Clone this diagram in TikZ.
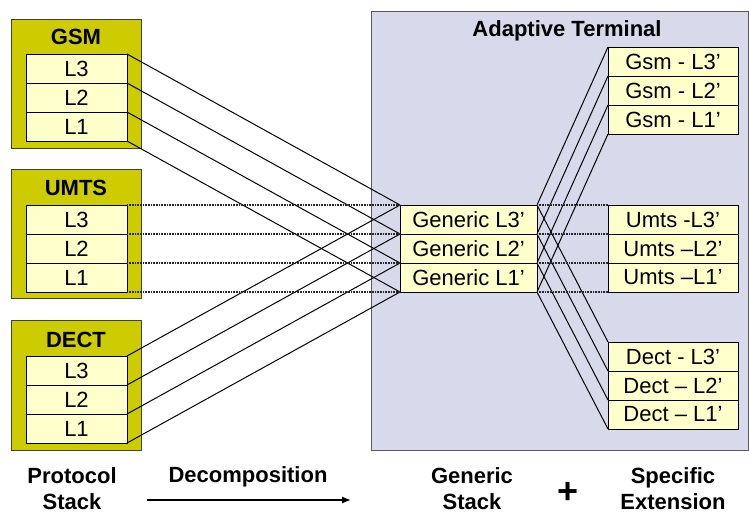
\documentclass[tikz,border=0pt]{standalone}
\usepackage{fontspec}
\setmainfont{Liberation Sans}
\usetikzlibrary{arrows.meta}
\definecolor{olive}{RGB}{204,204,0}
\definecolor{lightyel}{RGB}{255,255,204}
\definecolor{lav}{RGB}{217,217,236}
\begin{document}
\begin{tikzpicture}[x=1pt,y=-1pt,
  outerbox/.style={draw=black!75,line width=0.9pt,fill=olive},
  layer/.style={draw=black,line width=0.8pt,fill=lightyel,inner sep=0pt,outer sep=0pt,
     minimum height=29pt,anchor=north west,font=\fontsize{22}{24}\selectfont},
  lleft/.style={layer,minimum width=101pt},
  lgen/.style={layer,minimum width=137pt},
  lspec/.style={layer,minimum width=130pt},
  title/.style={font=\fontsize{22}{26}\selectfont\bfseries},
  conn/.style={line width=1pt,black},
  dconn/.style={line width=1.4pt,black!85,dash pattern=on 1pt off 0.6pt},
]
\useasboundingbox (0,0) rectangle (749,514);
% terminal background
\fill[lav,draw=black!65,line width=1pt] (371,11) rectangle (748,450);
\node[title] (term) at (567,31) {Adaptive Terminal};
% protocol stacks
\draw[outerbox] (11,19) rectangle (141,148);
\node[title] (gsm) at (76,37) {GSM};
\draw[outerbox] (11,169) rectangle (141,298);
\node[title] (umts) at (76,188) {UMTS};
\draw[outerbox] (11,320) rectangle (141,450);
\node[title] (dect) at (76,340) {DECT};
\node[lleft] (g3) at (26,54) {L3};
\node[lleft] (g2) at (26,83) {L2};
\node[lleft] (g1) at (26,112) {L1};
\node[lleft] (u3) at (26,205) {L3};
\node[lleft] (u2) at (26,234) {L2};
\node[lleft] (u1) at (26,263) {L1};
\node[lleft] (d3) at (26,356) {L3};
\node[lleft] (d2) at (26,385) {L2};
\node[lleft] (d1) at (26,414) {L1};
% generic
\node[lgen] (G3) at (400,205) {Generic L3’};
\node[lgen] (G2) at (400,234) {Generic L2’};
\node[lgen] (G1) at (400,263) {Generic L1’};
% specific
\node[lspec] (s3) at (608,47) {Gsm - L3’};
\node[lspec] (s2) at (608,76) {Gsm - L2’};
\node[lspec] (s1) at (608,105) {Gsm - L1’};
\node[lspec] (m3) at (608,205) {Umts -L3’};
\node[lspec] (m2) at (608,234) {Umts –L2’};
\node[lspec] (m1) at (608,263) {Umts –L1’};
\node[lspec] (e3) at (608,342) {Dect - L3’};
\node[lspec] (e2) at (608,371) {Dect – L2’};
\node[lspec] (e1) at (608,400) {Dect – L1’};
% GSM connectors
\draw[conn] (g3.north east) -- (G3.north west);
\draw[conn] (g2.north east) -- (G2.north west);
\draw[conn] (g1.north east) -- (G1.north west);
\draw[conn] (g1.south east) -- (G1.south west);
% DECT connectors
\draw[conn] (d3.north east) -- (G3.north west);
\draw[conn] (d2.north east) -- (G2.north west);
\draw[conn] (d1.north east) -- (G1.north west);
\draw[conn] (d1.south east) -- (G1.south west);
% UMTS connectors
\draw[dconn] (u3.north east) -- (G3.north west);
\draw[dconn] (u2.north east) -- (G2.north west);
\draw[dconn] (u1.north east) -- (G1.north west);
\draw[dconn] (u1.south east) -- (G1.south west);
% right side
\draw[conn] (G3.north east) -- (s3.north west);
\draw[conn] (G2.north east) -- (s2.north west);
\draw[conn] (G1.north east) -- (s1.north west);
\draw[conn] (G1.south east) -- (s1.south west);
\draw[conn] (G3.north east) -- (e3.north west);
\draw[conn] (G2.north east) -- (e2.north west);
\draw[conn] (G1.north east) -- (e1.north west);
\draw[conn] (G1.south east) -- (e1.south west);
\draw[dconn] (G3.north east) -- (m3.north west);
\draw[dconn] (G2.north east) -- (m2.north west);
\draw[dconn] (G1.north east) -- (m1.north west);
\draw[dconn] (G1.south east) -- (m1.south west);
% bottom labels
\node[title,align=center,inner sep=0pt] (ps) at (72,489) {Protocol\\Stack};
\node[title] (dec) at (248,477) {Decomposition};
\coordinate (a1) at (147,500);
\coordinate (a2) at (351,500);
\draw[line width=1.3pt,-{Latex[length=9pt,width=7pt]}] (a1) -- (a2);
\node[title,align=center,inner sep=0pt] (gs) at (472,489) {Generic\\Stack};
\node[font=\fontsize{36}{36}\selectfont\bfseries] (plus) at (568,493) {+};
\node[title,align=center,inner sep=0pt] (se) at (673,489) {Specific\\Extension};
\end{tikzpicture}
\end{document}
